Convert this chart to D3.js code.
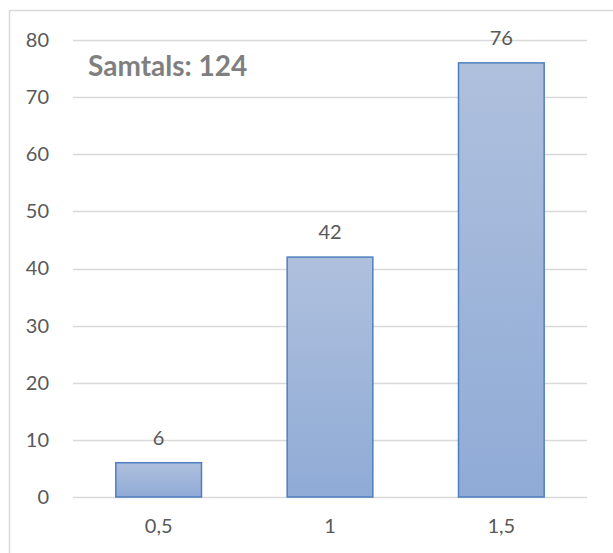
<!DOCTYPE html>
<html>
<head>
<meta charset="utf-8">
<script src="https://cdn.jsdelivr.net/npm/d3@7"></script>
<style>
  body { margin: 0; background: #fff; }
  text { font-family: Lato, Carlito, Calibri, sans-serif; }
</style>
</head>
<body>
<script>
// Chart data
var categories = ["0,5", "1", "1,5"];
var values = [6, 42, 76];
var yTicks = [0, 10, 20, 30, 40, 50, 60, 70, 80];
var totalLabel = "Samtals: 124";

(function() {
  var width = 613, height = 553;
  var margin = {left: 73, right: 26, top: 40, bottom: 56};

  var svg = d3.select("body")
      .append("svg")
      .attr("width", width)
      .attr("height", height);

  // Bar gradient
  var defs = svg.append("defs");
  var grad = defs.append("linearGradient")
      .attr("id", "barGrad")
      .attr("x1", 0).attr("y1", 0)
      .attr("x2", 0).attr("y2", 1);
  grad.append("stop").attr("offset", "0%").attr("stop-color", "#afc0dd");
  grad.append("stop").attr("offset", "100%").attr("stop-color", "#8fabd6");

  // Chart frame
  svg.append("rect")
      .attr("x", 9.5).attr("y", 10.5)
      .attr("width", width + 10).attr("height", height + 10)
      .attr("fill", "none")
      .attr("stroke", "#d9d9d9")
      .attr("stroke-width", 1.5);

  var x = d3.scaleBand()
      .domain(categories)
      .range([margin.left, width - margin.right])
      .paddingInner(0.5)
      .paddingOuter(0.25);

  var y = d3.scaleLinear()
      .domain([0, 80])
      .range([height - margin.bottom, margin.top]);

  // Gridlines
  svg.selectAll(".grid")
      .data(yTicks)
      .enter()
      .append("line")
      .attr("class", "grid")
      .attr("x1", margin.left)
      .attr("x2", width - margin.right)
      .attr("y1", function(d) { return Math.round(y(d)) + 0.5; })
      .attr("y2", function(d) { return Math.round(y(d)) + 0.5; })
      .attr("stroke", "#d9d9d9")
      .attr("stroke-width", 1.3);

  // Y axis labels
  var yAxis = d3.axisLeft(y).tickValues(yTicks).tickSize(0).tickPadding(24);
  var gy = svg.append("g")
      .attr("transform", "translate(" + margin.left + ",0)")
      .call(yAxis);
  gy.select(".domain").remove();
  gy.selectAll("text")
      .attr("fill", "#595959")
      .style("font-size", "20px");

  // Bars
  svg.selectAll(".bar")
      .data(values)
      .enter()
      .append("rect")
      .attr("class", "bar")
      .attr("x", function(d, i) { return x(categories[i]); })
      .attr("width", x.bandwidth())
      .attr("y", function(d) { return y(d); })
      .attr("height", function(d) { return y(0) - y(d); })
      .attr("fill", "url(#barGrad)")
      .attr("stroke", "#4f7fc0")
      .attr("stroke-width", 1.5);

  // Value labels
  svg.selectAll(".num")
      .data(values)
      .enter()
      .append("text")
      .attr("class", "num")
      .attr("text-anchor", "middle")
      .attr("x", function(d, i) { return x(categories[i]) + x.bandwidth() / 2; })
      .attr("y", function(d) { return y(d) - 18; })
      .attr("fill", "#595959")
      .style("font-size", "20px")
      .text(function(d) { return d; });

  // X axis labels
  var xAxis = d3.axisBottom(x).tickSize(0).tickPadding(22);
  var gx = svg.append("g")
      .attr("transform", "translate(0," + y(0) + ")")
      .call(xAxis);
  gx.select(".domain").remove();
  gx.selectAll("text")
      .attr("fill", "#595959")
      .style("font-size", "20px");

  // Total label
  svg.append("text")
      .attr("x", 88)
      .attr("y", 76)
      .attr("fill", "#7f7f7f")
      .style("font-size", "28px")
      .style("font-weight", "bold")
      .text(totalLabel);
})();
</script>
</body>
</html>
